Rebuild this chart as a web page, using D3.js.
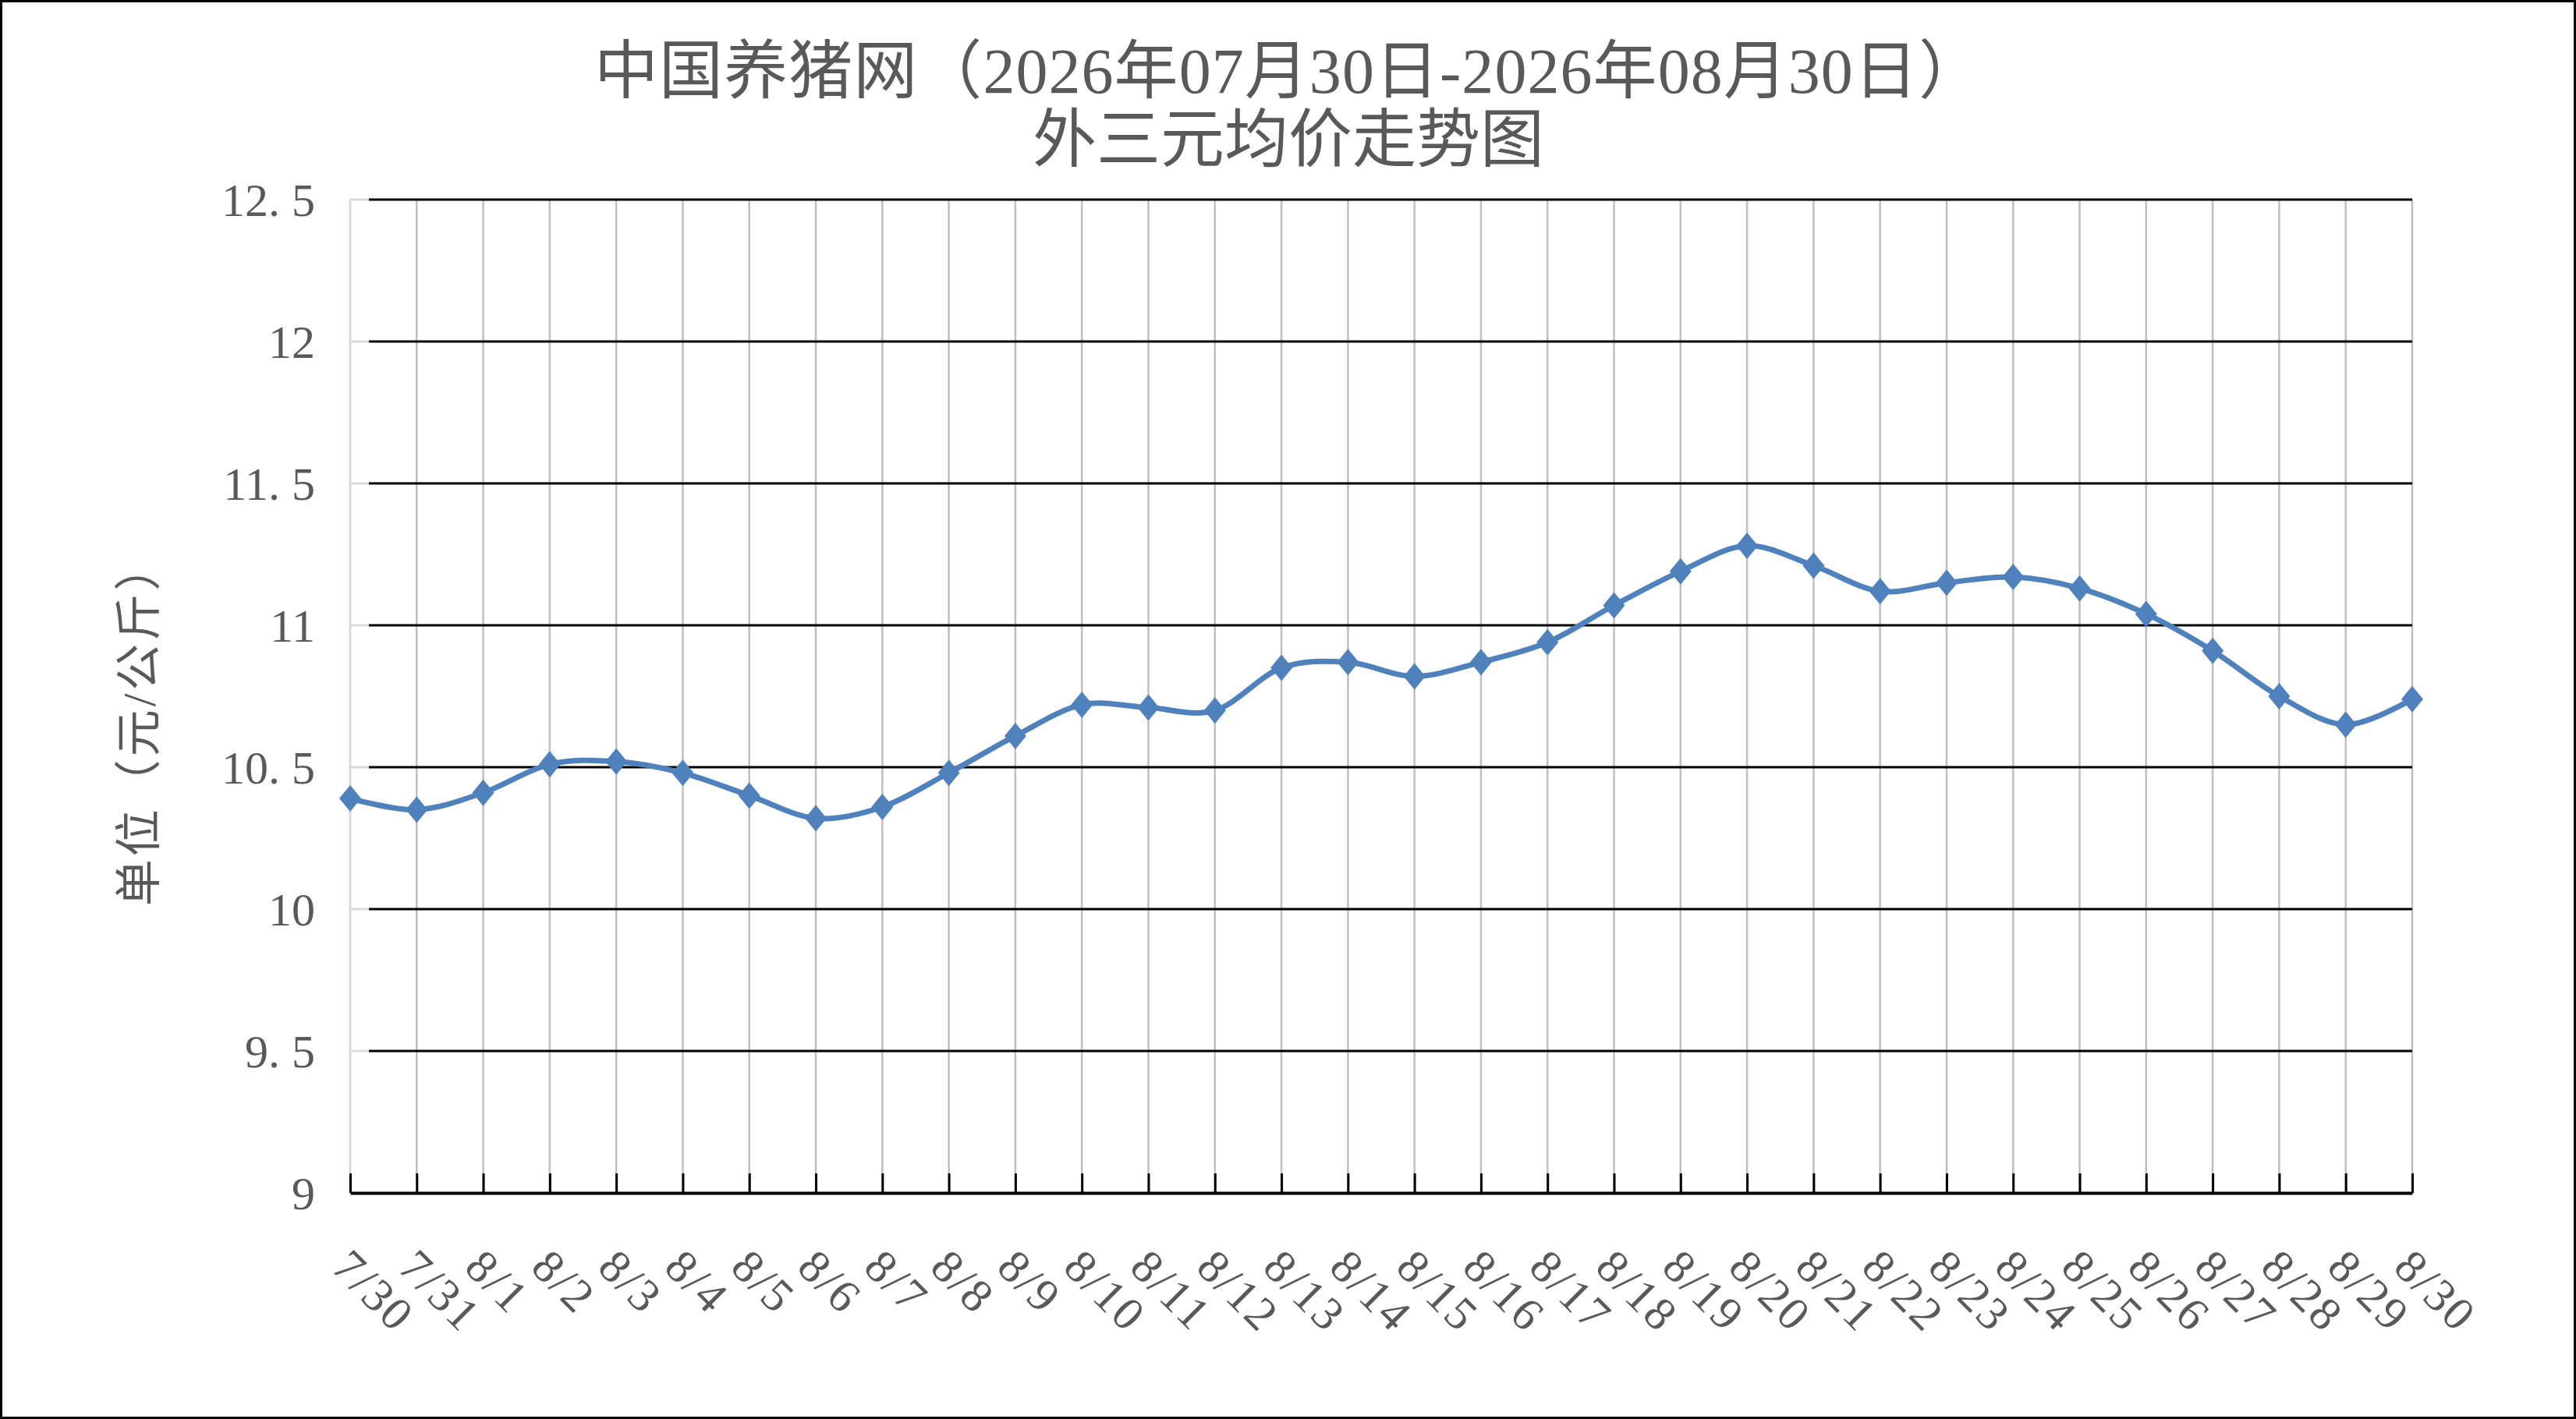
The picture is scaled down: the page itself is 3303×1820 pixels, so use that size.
<!DOCTYPE html>
<html>
<head>
<meta charset="utf-8">
<script src="https://cdn.jsdelivr.net/npm/d3@7"></script>
<style>
  html, body { margin: 0; padding: 0; background: #fff; }
  svg { display: block; }
</style>
</head>
<body>
<div id="chart"></div>
<script>
// chart data
const dates = ['7/30', '7/31', '8/1', '8/2', '8/3', '8/4', '8/5', '8/6', '8/7', '8/8',
    '8/9', '8/10', '8/11', '8/12', '8/13', '8/14', '8/15', '8/16', '8/17', '8/18',
    '8/19', '8/20', '8/21', '8/22', '8/23', '8/24', '8/25', '8/26', '8/27', '8/28',
    '8/29', '8/30'];
const prices = [10.39, 10.35, 10.41, 10.51, 10.52, 10.48, 10.40, 10.32, 10.36, 10.48,
    10.61, 10.72, 10.71, 10.70, 10.85, 10.87, 10.82, 10.87, 10.94, 11.07,
    11.19, 11.28, 11.21, 11.12, 11.15, 11.17, 11.13, 11.04, 10.91, 10.75,
    10.65, 10.74];
const yTicks = [9, 9.5, 10, 10.5, 11, 11.5, 12, 12.5];
const titleLines = ['中国养猪网（2026年07月30日-2026年08月30日）', '外三元均价走势图'];
const yTitle = '单位（元/公斤）';

const W = 3303, H = 1820;
const plotLeft = 449, plotRight = 3093, plotTop = 256, plotBottom = 1530;
const textColor = '#595959';
const lineColor = '#4F81BD';
const numFont = '"Liberation Serif", "Noto Sans CJK SC", serif';

const svg = d3.select('#chart').append('svg')
    .attr('width', W)
    .attr('height', H);

svg.append('rect')
    .attr('x', 1.5).attr('y', 1.5)
    .attr('width', W - 3).attr('height', H - 3)
    .attr('fill', '#fff')
    .attr('stroke', '#000')
    .attr('stroke-width', 3);

const x = d3.scalePoint()
    .domain(dates)
    .range([plotLeft, plotRight]);

const y = d3.scaleLinear()
    .domain([9, 12.5])
    .range([plotBottom, plotTop]);

// vertical grid lines (gray)
svg.append('g')
    .selectAll('line')
    .data(dates.slice(1))
    .join('line')
    .attr('x1', d => x(d)).attr('x2', d => x(d))
    .attr('y1', plotTop).attr('y2', plotBottom)
    .attr('stroke', '#BFBFBF')
    .attr('stroke-width', 2.5);

// value axis line
svg.append('line')
    .attr('x1', plotLeft).attr('x2', plotLeft)
    .attr('y1', plotTop).attr('y2', plotBottom)
    .attr('stroke', '#D9D9D9')
    .attr('stroke-width', 3);

// horizontal grid lines (black), with short gray inner ticks on the value axis
const hg = svg.append('g');
hg.selectAll('line.grid')
    .data(yTicks.filter(v => v > 9))
    .join('line')
    .attr('class', 'grid')
    .attr('x1', plotLeft + 24).attr('x2', plotRight)
    .attr('y1', d => y(d)).attr('y2', d => y(d))
    .attr('stroke', '#000')
    .attr('stroke-width', 3);
hg.selectAll('line.tick')
    .data(yTicks.filter(v => v > 9))
    .join('line')
    .attr('class', 'tick')
    .attr('x1', plotLeft).attr('x2', plotLeft + 24)
    .attr('y1', d => y(d)).attr('y2', d => y(d))
    .attr('stroke', '#D9D9D9')
    .attr('stroke-width', 3);

// y axis labels
const yAxis = d3.axisLeft(y)
    .tickValues(yTicks)
    .tickSize(0)
    .tickPadding(45)
    .tickFormat(d => String(d).replace('.', '. '));
svg.append('g')
    .attr('transform', `translate(${plotLeft},0)`)
    .call(yAxis)
    .call(g => g.select('.domain').remove())
    .call(g => g.selectAll('text')
        .attr('fill', textColor)
        .attr('font-family', numFont)
        .attr('font-size', 60)
        .attr('dy', '0.34em')
        .style('white-space', 'pre'));

// category axis with inner black ticks
const xAxis = d3.axisBottom(x)
    .tickSize(-25)
    .tickSizeOuter(0)
    .tickFormat('');
svg.append('g')
    .attr('transform', `translate(0,${plotBottom})`)
    .call(xAxis)
    .call(g => g.select('.domain')
        .attr('stroke', '#000')
        .attr('stroke-width', 4))
    .call(g => g.selectAll('.tick line')
        .attr('stroke', '#000')
        .attr('stroke-width', 3));

// rotated category labels
svg.append('g')
    .selectAll('text')
    .data(dates)
    .join('text')
    .attr('transform', d => `translate(${x(d) - 26},${plotBottom + 98}) rotate(45)`)
    .attr('fill', textColor)
    .attr('font-family', numFont)
    .attr('font-size', 60)
    .attr('letter-spacing', 3)
    .text(d => d);

// price line
const line = d3.line()
    .x((d, i) => x(dates[i]))
    .y(d => y(d))
    .curve(d3.curveCardinal.tension(0));
svg.append('path')
    .datum(prices)
    .attr('d', line)
    .attr('fill', 'none')
    .attr('stroke', lineColor)
    .attr('stroke-width', 7)
    .attr('stroke-linejoin', 'round');

// diamond markers
svg.append('g')
    .selectAll('path')
    .data(prices)
    .join('path')
    .attr('transform', (d, i) => `translate(${x(dates[i])},${y(d)})`)
    .attr('d', 'M0,-17L14,0L0,17L-14,0Z')
    .attr('fill', lineColor);

// title
svg.append('g')
    .selectAll('text')
    .data(titleLines)
    .join('text')
    .attr('x', 1652)
    .attr('y', (d, i) => 119 + i * 88)
    .attr('text-anchor', 'middle')
    .attr('fill', textColor)
    .attr('font-family', numFont)
    .attr('font-size', 82)
    .attr('textLength', (d, i) => i === 0 ? 1780 : null)
    .attr('lengthAdjust', 'spacing')
    .text(d => d);

// y axis title
svg.append('text')
    .attr('transform', 'translate(179,928) rotate(-90)')
    .attr('text-anchor', 'middle')
    .attr('dominant-baseline', 'central')
    .attr('fill', textColor)
    .attr('font-family', numFont)
    .attr('font-size', 60)
    .attr('letter-spacing', 4)
    .text(yTitle);
</script>
</body>
</html>
